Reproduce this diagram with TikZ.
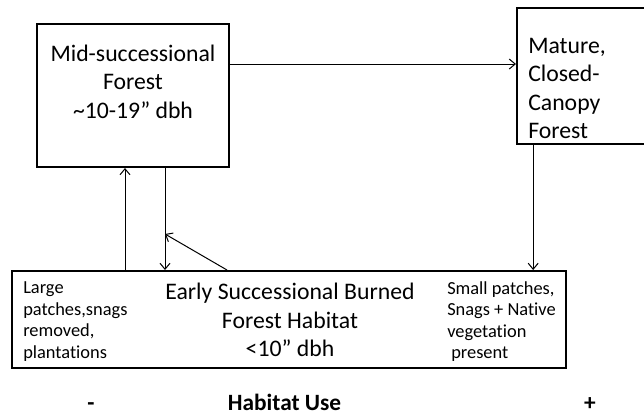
\documentclass[tikz,border=0pt]{standalone}
\usepackage{fontspec}
\setmainfont{Carlito}[Ligatures=NoCommon]
\usetikzlibrary{arrows.meta}
\begin{document}
\begin{tikzpicture}[x=0.75pt,y=-0.75pt]
\tikzstyle{box}=[rectangle,draw,line width=1.5pt,inner sep=0pt]
  \tikzstyle{arr}=[-{Straight Barb[length=4.5pt,width=7.5pt]},line width=0.75pt]
  \tikzstyle{big}=[inner sep=0pt,font=\fontsize{17.8}{21.4}\selectfont]
  \tikzstyle{small}=[inner sep=0pt,align=left,font=\fontsize{13.8}{16.1}\selectfont]
  \tikzstyle{axis}=[inner sep=0pt,anchor=base,font=\fontsize{17.5}{20}\selectfont\bfseries]
  \useasboundingbox (0,0) rectangle (644,415);

  \node[box,minimum width=144pt,minimum height=107.25pt] (mid) at (133,95.5) {};
  \node[box,minimum width=98.25pt,minimum height=102pt] (mature) at (582.5,76) {};
  \node[box,minimum width=415.5pt,minimum height=72.75pt] (early) at (289,319.5) {};

  \node[big,align=center] (midtext) at (133,81.5) {Mid-successional\\Forest\\\textasciitilde10-19” dbh};
  \node[big,align=left,anchor=west] (maturetext) at (528,88.5) {Mature,\\Closed-\\Canopy\\Forest};
  \node[big,align=center] (earlytext) at (290,320) {Early Successional Burned\\Forest Habitat\\<10” dbh};
  \node[small,anchor=west] (lefttext) at (23,321.5) {Large\\patches,snags\\removed,\\plantations};
  \node[small,anchor=west] (righttext) at (447,321.5) {Small patches,\\Snags + Native\\vegetation\\\hspace*{3pt}present};

  \node[axis] (use) at (284.5,410) {Habitat Use};
  \node[axis] (minus) at (91,410) {-};
  \node[axis] (plus) at (590,410) {+};

  \coordinate (h) at ([yshift=23.6pt]mid.east);
  \draw[arr] (h) -- (h -| mature.west);
  \coordinate (up) at ([xshift=-6pt]mid.south);
  \coordinate (dn) at ([xshift=24pt]mid.south);
  \draw[arr] (up |- early.north) -- (up);
  \draw[arr] (dn) -- (dn |- early.north);
  \coordinate (k) at ([xshift=-46.5pt]early.north);
  \draw[arr] (k) -- ([yshift=-49.5pt]dn);
  \coordinate (m) at ([xshift=-37pt]mature.south);
  \draw[arr] (m) -- (m |- early.north);
\end{tikzpicture}
\end{document}
